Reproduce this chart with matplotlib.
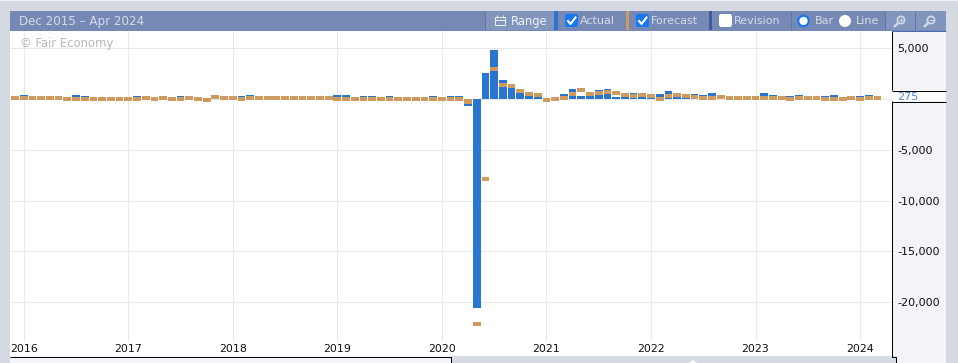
import matplotlib
matplotlib.use("Agg")
import matplotlib.pyplot as plt
from matplotlib.patches import Rectangle, Circle, FancyBboxPatch, Polygon

# chart values, one bar per monthly release
date_range = "Dec 2015 – Apr 2024"
watermark = "© Fair Economy"
year_labels = ["2016", "2017", "2018", "2019", "2020", "2021", "2022", "2023", "2024"]
year_index = [1, 13, 25, 37, 49, 61, 73, 85, 97]
y_ticks = [5000, 275, -5000, -10000, -15000, -20000]
y_labels = ["5,000", "275", "-5,000", "-10,000", "-15,000", "-20,000"]
grid_values = [5000, 0, -5000, -10000, -15000, -20000]

actual = [290, 400, 240, 240, 210, 160, 190, 400, 300, 150,
          170, 160, 170, 180, 300, 240, 170, 210, 190, 300,
          220, 190, 60, 310, 230, 200, 300, 400, 150, 250,
          220, 190, 220, 240, 210, 250, 280, 400, 400, 180,
          300, 300, 160, 300, 150, 190, 170, 140, 300, 150,
          300, 300, -690, -20570, 2560, 4820, 1870, 1371, 661, 638,
          245, -140, 49, 500, 984, 266, 559, 886, 984, 235,
          194, 590, 210, 199, 492, 787, 431, 428, 492, 394,
          590, 260, 250, 230, 240, 220, 590, 394, 240, 300,
          394, 250, 230, 300, 394, 150, 210, 300, 394, 250]

forecast = [300, 300, 300, 300, 300, 300, 200, 200, 200, 200,
            200, 200, 200, 200, 200, 300, 200, 300, 200, 200,
            300, 200, 100, 400, 300, 300, 200, 300, 300, 300,
            300, 300, 300, 300, 300, 300, 300, 200, 200, 200,
            200, 200, 200, 200, 200, 200, 200, 200, 200, 200,
            200, 200, -30, -21950, -7680, 3150, 1575, 1476, 984, 689,
            590, 100, 200, 300, 689, 1083, 689, 787, 886, 787,
            590, 492, 590, 492, 197, 492, 590, 492, 394, 295,
            295, 394, 300, 300, 300, 300, 300, 300, 300, 200,
            300, 300, 300, 200, 200, 200, 300, 200, 300, 300]

BLUE = "#2a75cf"
ORANGE = "#d09a5e"
GREY = "#d5d9e2"
PANEL = "#f3f4f9"
HEADER = "#7589b4"
BUTTON = "#8195bd"
GRID = "#e6e8f2"
HEAD_TEXT = "#d5dcea"
ONE_PX = 0.72

W, H = 958, 363
fig = plt.figure(figsize=(W / 100, H / 100), dpi=100, facecolor=GREY)

# page furniture in pixel coordinates
bg = fig.add_axes([0, 0, 1, 1], zorder=0)
bg.set_xlim(0, W)
bg.set_ylim(H, 0)
bg.axis("off")


def box(x0, y0, x1, y1, color):
    bg.add_patch(Rectangle((x0, y0), x1 - x0, y1 - y0, fc=color, ec="none"))


def line(xs, ys, color="black", lw=ONE_PX):
    bg.plot(xs, ys, color=color, lw=lw, solid_capstyle="butt", solid_joinstyle="miter")


def label(x, s, color=HEAD_TEXT, size=8.0):
    bg.text(x, 21, s, color=color, fontsize=size, va="center", ha="left")


def checkbox(x, checked):
    color = "#1677f2" if checked else "white"
    bg.add_patch(FancyBboxPatch((x + 2, 16), 9, 9, boxstyle="round,pad=2,rounding_size=2.5",
                                fc=color, ec="none"))
    if checked:
        bg.plot([x + 3, x + 5.5, x + 10.5], [21, 24, 17.5], color="white", lw=1.5)


def magnifier(x, y, plus):
    bg.add_patch(Circle((x + 1, y - 1), 3.6, fc="none", ec="#d3dae8", lw=1.2))
    line([x - 2, x - 6], [y + 2, y + 6], "#d3dae8", 1.8)
    line([x - 1, x + 3], [y - 1, y - 1], "#d3dae8")
    if plus:
        line([x + 1, x + 1], [y - 3, y + 1], "#d3dae8")


box(0, 0, W, 1, "#f0f0f0")

# right hand value panel and the strip below the chart
box(892, 31, 946, 90, PANEL)
box(892, 90, 946, 101, "white")
box(892, 101, 946, 356, PANEL)
box(896, 356, 946, 363, PANEL)
box(10, 356, 451, 363, PANEL)
line([892, 946], [90.5, 90.5])
line([892, 946], [101.5, 101.5])
line([892.5, 892.5, 896.5, 896.5], [101, 356.5, 356.5, 363])
line([892.5, 892.5], [31, 90])
line([10, 451.5, 451.5], [356.5, 356.5, 363])
bg.add_patch(Polygon([(689, 363), (693, 360), (697, 363)], fc="white", ec="none"))

# header bar
box(10, 11, 946, 31, HEADER)
box(485, 11, 554, 30, BUTTON)
box(885, 11, 946, 30, BUTTON)
box(554, 11, 558, 30, BLUE)
box(626, 11, 629, 30, ORANGE)
box(709, 11, 712, 30, "#3c5c9e")
line([10, 946], [30.5, 30.5], "#4a6cb0")
for sep in [485, 791, 885, 915]:
    line([sep + 0.5, sep + 0.5], [11, 30], "#5f77a8")

label(19, date_range, size=8.6)
label(510.5, "Range", "#eef1f7", 8.3)
label(580, "Actual")
label(651, "Forecast")
label(734, "Revision")
label(815, "Bar")
label(856, "Line")
checkbox(565, True)
checkbox(636, True)
checkbox(719, False)
bg.add_patch(Circle((803.5, 21), 5.2, fc="white", ec="#1677f2", lw=1.5))
bg.add_patch(Circle((845, 21), 6, fc="white", ec="none"))
magnifier(900, 21, True)
magnifier(930, 21, False)
# calendar icon of the range button
bg.add_patch(Rectangle((495.5, 17), 10, 8, fc="none", ec="#eef1f7", lw=ONE_PX))
line([495.5, 505.5], [20, 20], "#eef1f7")
line([497.5, 497.5], [15, 18], "#eef1f7")
line([503.5, 503.5], [15, 18], "#eef1f7")

# chart area: y pixel 99 is zero, 50.8 px per 5,000; bars 8.712 px apart
PX_PER_UNIT = 0.01016
PLOT_L, PLOT_R, PLOT_T, PLOT_B = 10, 892, 31, 356
ax = fig.add_axes([PLOT_L / W, 1 - PLOT_B / H, (PLOT_R - PLOT_L) / W, (PLOT_B - PLOT_T) / H],
                  zorder=2, facecolor="white")
ax.set_xlim((PLOT_L - 15) / 8.712, (PLOT_R - 15) / 8.712)
ax.set_ylim((99 - PLOT_B) / PX_PER_UNIT, (99 - PLOT_T) / PX_PER_UNIT)
for side in ax.spines.values():
    side.set_visible(False)

y_bottom, y_top = ax.get_ylim()
ax.hlines(grid_values, *ax.get_xlim(), color=GRID, lw=ONE_PX, zorder=1)
ax.vlines(year_index, (99 - 341) / PX_PER_UNIT, y_top, color=GRID, lw=ONE_PX, zorder=1)

months = range(len(actual))
marker_height = 4.3 / PX_PER_UNIT
ax.bar(months, actual, width=0.89, color=BLUE, zorder=2)
ax.bar(months, [-marker_height] * len(forecast), bottom=forecast, width=0.89, color=ORANGE, zorder=3)

ax.set_xticks([])
ax.yaxis.tick_right()
ax.set_yticks(y_ticks)
ax.set_yticklabels(y_labels)
ax.tick_params(axis="y", length=0, pad=4, labelsize=8, labelcolor="#111111")
ax.get_yticklabels()[1].set_color("#4a86d8")

for pos, year in zip(year_index, year_labels):
    ax.text(pos, (99 - 349) / PX_PER_UNIT, year, ha="center", va="center",
            fontsize=7.9, color="#111111", zorder=4)

ax.text((20 - 15) / 8.712, (99 - 44) / PX_PER_UNIT, watermark, ha="left", va="center",
        fontsize=8.4, color="#b8b8b8", zorder=4)

fig.savefig("out.png", dpi=100, facecolor=GREY)
